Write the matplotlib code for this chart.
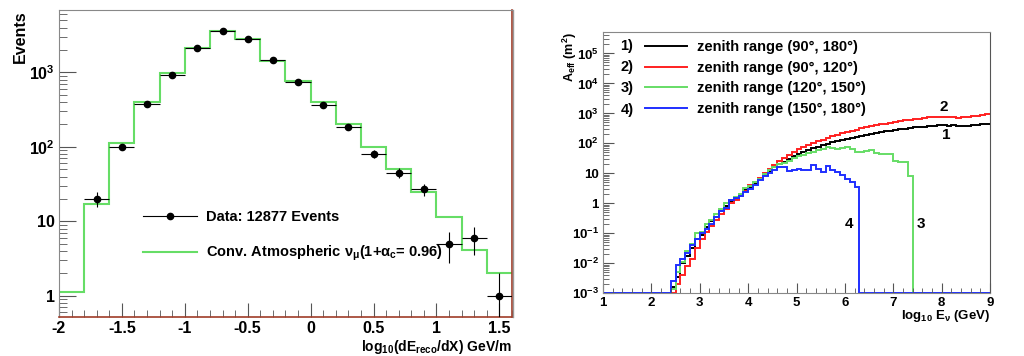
import numpy as np
import matplotlib
matplotlib.use("Agg")
import matplotlib.pyplot as plt
import matplotlib.ticker as mticker
from matplotlib.lines import Line2D

plt.rcParams['font.family'] = ['Liberation Sans', 'DejaVu Sans']
plt.rcParams['font.weight'] = 'bold'
plt.rcParams['axes.labelweight'] = 'bold'
plt.rcParams['axes.unicode_minus'] = False
plt.rcParams['mathtext.fontset'] = 'custom'
plt.rcParams['mathtext.rm'] = 'Liberation Sans:bold'
plt.rcParams['mathtext.it'] = 'Liberation Sans:bold'
plt.rcParams['mathtext.bf'] = 'Liberation Sans:bold'
plt.rcParams['mathtext.default'] = 'rm'

# ---------------- left panel: dE/dX distribution ----------------
dedx_edges = np.round(np.arange(-2.0, 1.61, 0.2), 2)
mc_counts = [1.14, 17, 114, 403, 980, 2150, 3560, 2780, 1435, 757,
             395, 204, 101, 51, 24.8, 11.4, 4.16, 2.02]
data_x = [-1.7, -1.5, -1.3, -1.1, -0.9, -0.7, -0.5, -0.3, -0.1,
          0.1, 0.3, 0.5, 0.7, 0.9, 1.1, 1.3, 1.5]
data_counts = [20, 100, 375, 920, 2150, 3580, 2800, 1461, 749,
               371, 186, 81, 45, 27, 5, 6, 1]
data_label = "Data: 12877 Events"
mc_label = r"Conv. Atmospheric ν$_{μ}$(1+α$_{c}$= 0.96)"

# ---------------- right panel: effective area ----------------
e_edges = np.round(np.arange(1.0, 9.01, 0.1), 2)
# log10(A_eff / m^2) per bin starting at log10 E = 2.4 ; None = empty bin
first_bin = 2.4
aeff_all = [-2.8, -2.45, -2.0, -1.75, -1.5, -1.2, -1.05, -0.8, -0.6, -0.45,
            -0.25, -0.1, 0.07, 0.15, 0.28, 0.45, 0.55, 0.68, 0.8, 0.95,
            1.08, 1.2, 1.3, 1.38, 1.48, 1.58, 1.66, 1.72, 1.78, 1.84,
            1.89, 1.94, 1.98, 2.03, 2.07, 2.11, 2.14, 2.18, 2.22, 2.25,
            2.28, 2.31, 2.34, 2.37, 2.40, 2.42, 2.45, 2.47, 2.49, 2.51,
            2.53, 2.55, 2.56, 2.58, 2.59, 2.60, 2.60, 2.59, 2.60, 2.59,
            2.58, 2.59, 2.61, 2.62, 2.64, 2.66]
aeff_90_120 = [None, -2.7, -2.4, -2.1, -1.85, -1.5, -1.2, -0.95, -0.75, -0.55,
               -0.35, -0.2, 0.0, 0.12, 0.25, 0.42, 0.6, 0.72, 0.85, 1.0,
               1.15, 1.28, 1.42, 1.52, 1.62, 1.72, 1.8, 1.88, 1.95, 2.01,
               2.07, 2.12, 2.18, 2.23, 2.28, 2.33, 2.37, 2.42, 2.46, 2.5,
               2.53, 2.57, 2.6, 2.63, 2.66, 2.69, 2.72, 2.74, 2.77, 2.79,
               2.81, 2.83, 2.85, 2.87, 2.88, 2.89, 2.88, 2.89, 2.87, 2.86,
               2.87, 2.88, 2.91, 2.93, 2.95, 2.97]
aeff_120_150 = [-2.85, -2.3, -1.95, -1.6, -1.35, -1.0, -0.95, -0.7, -0.55, -0.35,
                -0.2, 0.0, 0.1, 0.2, 0.32, 0.5, 0.58, 0.7, 0.82, 0.98,
                1.1, 1.2, 1.3, 1.36, 1.42, 1.5, 1.58, 1.62, 1.68, 1.72,
                1.78, 1.82, 1.87, 1.86, 1.82, 1.86, 1.88, 1.82, 1.72, 1.72,
                1.74, 1.78, 1.67, 1.66, 1.66, 1.65, 1.42, 1.39, 1.38, 0.92]
aeff_150_180 = [-2.6, -2.05, -1.85, -1.65, -1.4, -1.2, -1.0, -0.85, -0.7, -0.45,
                -0.25, -0.15, 0.1, 0.18, 0.25, 0.38, 0.48, 0.6, 0.78, 0.9,
                1.02, 1.1, 1.2, 1.22, 1.08, 1.12, 1.14, 1.12, 1.1, 1.28,
                1.15, 1.05, 1.24, 1.1, 1.05, 0.94, 0.8, 0.72, 0.56]
zenith_labels = ["zenith range (90°, 180°)", "zenith range (90°, 120°)",
                 "zenith range (120°, 150°)", "zenith range (150°, 180°)"]
zenith_colors = ["black", "#ff2020", "#66dd66", "#1f2fff"]
aeff_ymin, aeff_ymax = 1e-3, 5.3e5


def fill_bins(logvals):
    # put the read values into the full 1..9 binning, empty bins -> axis floor
    out = np.full(len(e_edges) - 1, aeff_ymin)
    i0 = int(round((first_bin - e_edges[0]) / 0.1))
    for k, v in enumerate(logvals):
        if v is not None:
            out[i0 + k] = 10 ** v
    return out


def log_fmt(v, pos):
    if v == 1:
        return "1"
    if v == 10:
        return "10"
    return r"$10^{%d}$" % int(round(np.log10(v)))


def bold_ticks(a):
    for lab in a.get_xticklabels() + a.get_yticklabels():
        lab.set_fontweight('bold')


fig = plt.figure(figsize=(10.24, 3.56), dpi=100)

# ---- left ----
ax = fig.add_axes([0.0576, 0.1096, 0.4424, 0.8624])
ax.stairs(mc_counts, dedx_edges, baseline=None, color="#66dd66", linewidth=1.5, zorder=2)
data_counts = np.array(data_counts, dtype=float)
err = np.sqrt(data_counts)
err_lo = np.where(data_counts - err > 0, err, data_counts * 0.999)
ax.errorbar(data_x, data_counts, xerr=0.1, yerr=[err_lo, err], fmt='o', color='black',
            ms=4.5, elinewidth=0.8, capsize=0, zorder=3)
ax.set_yscale('log')
ax.set_xlim(-2, 1.6)
ax.set_ylim(0.52, 6900)
ax.xaxis.set_major_locator(mticker.MultipleLocator(0.5))
ax.xaxis.set_minor_locator(mticker.MultipleLocator(0.1))
ax.xaxis.set_major_formatter(mticker.FormatStrFormatter('%g'))
ax.yaxis.set_major_locator(mticker.FixedLocator([1, 10, 100, 1000]))
ax.yaxis.set_minor_locator(mticker.LogLocator(base=10, subs=np.arange(2, 10)))
ax.yaxis.set_major_formatter(mticker.FuncFormatter(log_fmt))
ax.yaxis.set_minor_formatter(mticker.NullFormatter())
ax.tick_params(which='both', direction='in', top=False, right=False, colors='#555555',
               labelcolor='black', labelsize=11.5)
ax.tick_params(axis='y', which='major', length=12, pad=3)
ax.tick_params(axis='y', which='minor', length=6)
ax.tick_params(axis='x', which='major', length=10, pad=3)
ax.tick_params(axis='x', which='minor', length=5)
bold_ticks(ax)
for s in ['top', 'left']:
    ax.spines[s].set_color('#888888')
for s in ['bottom', 'right']:
    ax.spines[s].set_color('#a03c28')
    ax.spines[s].set_linewidth(1.2)
ax.set_ylabel("Events", loc='top', fontsize=11.5)
ax.yaxis.set_label_coords(-0.068, 1.0)
ax.set_xlabel(r"log$_{10}$(dE$_{reco}$/dX) GeV/m", loc='right', fontsize=10)
ax.xaxis.set_label_coords(1.0, -0.068)
h_data = Line2D([0], [0], color='black', marker='o', ms=4.5, lw=0.8)
h_mc = Line2D([0], [0], color='#66dd66', lw=1.5)
ax.legend([h_data, h_mc], [data_label, mc_label], loc='center left',
          bbox_to_anchor=(0.185, 0.262), frameon=False, fontsize=10.5,
          handlelength=3.75, handletextpad=0.6, labelspacing=1.4,
          borderpad=0, borderaxespad=0)

# separator line of the second picture
fig.add_artist(Line2D([0.501, 0.501], [0.1096, 0.972], color='#999999', lw=1))

# ---- right ----
ax2 = fig.add_axes([0.5889, 0.1761, 0.378, 0.7348])
series = [aeff_all, aeff_90_120, aeff_120_150, aeff_150_180]
handles = []
for vals, col in zip(series, zenith_colors):
    ax2.stairs(fill_bins(vals), e_edges, baseline=None, color=col, linewidth=1.4,
               clip_on=False)
    handles.append(Line2D([0], [0], color=col, lw=1.4))
ax2.set_yscale('log')
ax2.set_xlim(1, 9)
ax2.set_ylim(aeff_ymin, aeff_ymax)
ax2.xaxis.set_major_locator(mticker.MultipleLocator(1))
ax2.xaxis.set_minor_locator(mticker.MultipleLocator(0.2))
ax2.yaxis.set_major_locator(mticker.LogLocator(base=10, numticks=20))
ax2.yaxis.set_minor_locator(mticker.LogLocator(base=10, subs=np.arange(2, 10), numticks=20))
ax2.yaxis.set_major_formatter(mticker.FuncFormatter(log_fmt))
ax2.yaxis.set_minor_formatter(mticker.NullFormatter())
ax2.tick_params(which='both', direction='in', top=False, right=False, colors='#555555',
                labelcolor='black', labelsize=9.5)
ax2.tick_params(axis='y', which='major', length=8, pad=3)
ax2.tick_params(axis='y', which='minor', length=4)
ax2.tick_params(axis='x', which='major', length=7, pad=3)
ax2.tick_params(axis='x', which='minor', length=3.5)
bold_ticks(ax2)
for s in ax2.spines.values():
    s.set_color('#888888')
ax2.spines['right'].set_color('#555555')
ax2.set_ylabel(r"A$_{eff}$ (m$^{2}$)", loc='top', fontsize=9)
ax2.yaxis.set_label_coords(-0.063, 1.0)
ax2.set_xlabel(r"log$_{10}$ E$_{ν}$ (GeV)", loc='right', fontsize=9.5)
ax2.xaxis.set_label_coords(1.0, -0.055)
ax2.legend(handles, zenith_labels, loc='center left', bbox_to_anchor=(0.1085, 0.823),
           frameon=False, fontsize=10.5, handlelength=2.9, handletextpad=0.65,
           labelspacing=0.45, borderpad=0, borderaxespad=0)
for i, yy in enumerate([0.946, 0.864, 0.783, 0.701]):
    ax2.text(0.062, yy, f"{i + 1})", transform=ax2.transAxes, ha='center', va='center',
             fontsize=10.5)
# curve numbers
ax2.text(8.05, 1600, "2", ha='center', va='center', fontsize=11)
ax2.text(8.1, 190, "1", ha='center', va='center', fontsize=11)
ax2.text(6.08, 0.2, "4", ha='center', va='center', fontsize=11)
ax2.text(7.57, 0.2, "3", ha='center', va='center', fontsize=11)

fig.savefig("out.png", dpi=100)
